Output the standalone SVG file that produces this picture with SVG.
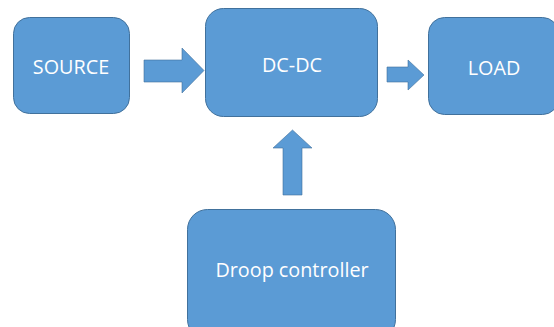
<svg xmlns="http://www.w3.org/2000/svg" width="554" height="327" viewBox="0 0 554 327">
  <style>
    .box { fill: #5B9BD5; stroke: #41719C; stroke-width: 1; }
    .arrow { fill: #5B9BD5; stroke: #41719C; stroke-width: 0.6; }
    .label { fill: #FFFFFF; font-family: "Open Sans", "Liberation Sans", sans-serif; font-size: 19.8px; text-anchor: middle; dominant-baseline: central; }
  </style>
  <rect width="554" height="327" fill="#FFFFFF"/>

  <g id="source">
    <rect class="box" x="13.5" y="17.5" width="116" height="96" rx="16"/>
    <text class="label" x="71" y="66">SOURCE</text>
  </g>

  <g id="dcdc">
    <rect class="box" x="205.5" y="8.5" width="172" height="108" rx="18"/>
    <text class="label" x="292" y="64">DC-DC</text>
  </g>

  <g id="load">
    <rect class="box" x="428.5" y="17.5" width="130" height="97" rx="16"/>
    <text class="label" x="494" y="67">LOAD</text>
  </g>

  <g id="droop">
    <rect class="box" x="187.5" y="209.5" width="208" height="130" rx="20"/>
    <text class="label" x="292" y="269">Droop controller</text>
  </g>

  <g id="connectors">
    <!-- source to converter -->
    <polygon class="arrow" points="144,60 182,60 182,48 204,70.5 182,93 182,82 144,82"/>
    <!-- converter to load -->
    <polygon class="arrow" points="387,67 408,67 408,60 424,75 408,90 408,82 387,82"/>
    <!-- controller to converter -->
    <polygon class="arrow" points="283,195 283,148 273,148 292.5,130 312,148 302,148 302,195"/>
  </g>
</svg>
